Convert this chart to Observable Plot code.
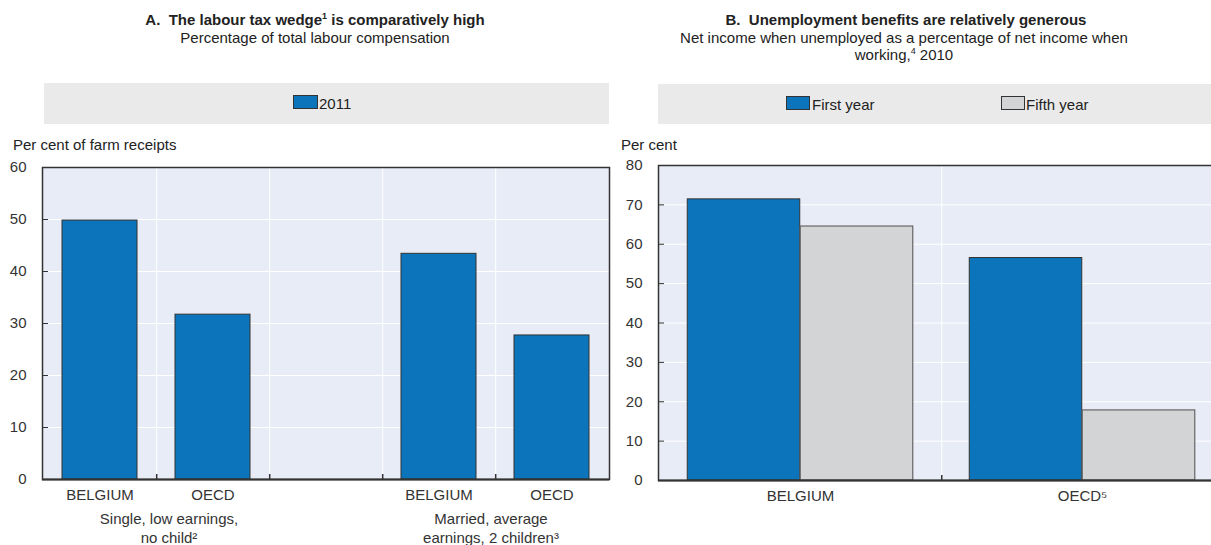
<!DOCTYPE html>
<html>
<head>
<meta charset="utf-8">
<script src="https://cdn.jsdelivr.net/npm/d3@7"></script>
<script src="https://cdn.jsdelivr.net/npm/@observablehq/plot@0.6"></script>
<style>
  html, body { margin: 0; padding: 0; background: #fff; }
  #root { position: relative; width: 1211px; height: 545px; overflow: hidden;
          font-family: "Liberation Sans", Arial, sans-serif; color: #222; }
  .abs { position: absolute; }
  .title { font-size: 15px; font-weight: bold; line-height: 18px; text-align: center; white-space: nowrap; }
  .sub { font-size: 15px; line-height: 17px; text-align: center; white-space: nowrap; }
  .sup { font-size: 9px; position: relative; top: -6px; }
  .band { background: #EAEAEB; }
  .sw { position: absolute; box-sizing: border-box; border: 1px solid #333; }
  .lt { position: absolute; font-size: 15px; line-height: 15px; color: #222; white-space: nowrap; }
  .ylab { position: absolute; font-size: 15px; line-height: 17px; color: #222; white-space: nowrap; }
  svg { position: absolute; }
</style>
</head>
<body>
<div id="root">
  <div class="abs title" style="left:115px;top:11px;width:400px;">A.&nbsp; The labour tax wedge<span class="sup">1</span> is comparatively high</div>
  <div class="abs sub" style="left:115px;top:29px;width:400px;">Percentage of total labour compensation</div>

  <div class="abs title" style="left:706px;top:11px;width:400px;">B.&nbsp; Unemployment benefits are relatively generous</div>
  <div class="abs sub" style="left:654px;top:29px;width:500px;">Net income when unemployed as a percentage of net income when<br>working,<span class="sup">4</span> 2010</div>

  <div class="abs band" style="left:44px;top:83px;width:565px;height:41px;"></div>
  <div class="sw" id="swA" style="left:293px;top:95px;width:25px;height:14px;"></div>
  <div class="lt" id="ltA" style="left:319px;top:96px;"></div>

  <div class="abs band" style="left:658px;top:84px;width:553px;height:40px;"></div>
  <div class="sw" id="swB1" style="left:786px;top:96px;width:24px;height:14px;"></div>
  <div class="lt" id="ltB1" style="left:812px;top:97px;"></div>
  <div class="sw" id="swB2" style="left:1001px;top:96px;width:24px;height:14px;"></div>
  <div class="lt" id="ltB2" style="left:1026px;top:97px;"></div>

  <div class="ylab" style="left:13px;top:136px;">Per cent of farm receipts</div>
  <div class="ylab" style="left:621px;top:136px;">Per cent</div>
</div>
<script>
// ---------- Panel A data ----------
const householdsA = ["Single, low earnings,\nno child²", "Married, average\nearnings, 2 children³"];
const countriesA = ["BELGIUM", "OECD"];
const seriesA = "2011";
const wedgeSingle = [49.8, 31.7];   // BELGIUM, OECD
const wedgeMarried = [43.4, 27.7];  // BELGIUM, OECD
const yTicksA = [0, 10, 20, 30, 40, 50, 60];

// ---------- Panel B data ----------
const countriesB = ["BELGIUM", "OECD"];
const countryLabelsB = ["BELGIUM", "OECD⁵"];
const seriesB = ["First year", "Fifth year"];
const firstYear = [71.4, 56.5];
const fifthYear = [64.5, 17.8];
const yTicksB = [0, 10, 20, 30, 40, 50, 60, 70, 80];

// ---------- styles ----------
const BLUE = "#0B74BA", GREY = "#D3D4D6", BG = "#E8ECF6", DARK = "#333";
const FONT = "'Liberation Sans', Arial, sans-serif";

document.getElementById("swA").style.background = BLUE;
document.getElementById("ltA").textContent = seriesA;
document.getElementById("swB1").style.background = BLUE;
document.getElementById("ltB1").textContent = seriesB[0];
document.getElementById("swB2").style.background = GREY;
document.getElementById("ltB2").textContent = seriesB[1];

// ---------- Panel A ----------
const slotsA = [
  "0|" + countriesA[0], "0|" + countriesA[1], "gap",
  "1|" + countriesA[0], "1|" + countriesA[1]
];
const rowsA = [
  {slot: slotsA[0], value: wedgeSingle[0]},
  {slot: slotsA[1], value: wedgeSingle[1]},
  {slot: slotsA[3], value: wedgeMarried[0]},
  {slot: slotsA[4], value: wedgeMarried[1]}
];
const dimA = {width: 620, height: 415, marginTop: 37, marginBottom: 66, marginLeft: 42, marginRight: 11};
const innerWA = dimA.width - dimA.marginLeft - dimA.marginRight;
const stepA = innerWA / slotsA.length;

const plotA = Plot.plot({
  ...dimA,
  style: {fontSize: "15px", fontFamily: FONT, color: DARK, background: "transparent", overflow: "hidden"},
  x: {domain: slotsA, paddingInner: 0.333, paddingOuter: 0.1667, tickSize: 0, tickPadding: 10,
      tickFormat: d => d === "gap" ? "" : d.split("|")[1], label: null},
  y: {domain: [0, 60], ticks: yTicksA, tickSize: 0, tickPadding: 16, label: null},
  marks: [
    Plot.frame({fill: BG}),
    Plot.ruleY(yTicksA, {stroke: "#fff", strokeWidth: 1}),
    Plot.ruleX(slotsA.slice(0, 4), {dx: stepA / 2, stroke: "#fff", strokeWidth: 1}),
    Plot.barY(rowsA, {x: "slot", y: "value", fill: BLUE, stroke: DARK, strokeWidth: 1}),
    Plot.ruleY(yTicksA, {stroke: DARK, strokeWidth: 1, insetRight: innerWA - 6}),
    Plot.ruleX(slotsA.slice(0, 4), {dx: stepA / 2, y1: 0, y2: 0, insetBottom: 5, stroke: DARK, strokeWidth: 1.5}),
    Plot.frame({stroke: DARK, strokeWidth: 1.5}),
    Plot.ruleY([0], {stroke: DARK, strokeWidth: 2}),
    Plot.text([householdsA[0]], {x: () => slotsA[0], y: () => 0, text: d => d, dx: 69, dy: 31,
      lineAnchor: "top", lineHeight: 1.27, fontSize: 15, fill: DARK}),
    Plot.text([householdsA[1]], {x: () => slotsA[3], y: () => 0, text: d => d, dx: 52, dy: 31,
      lineAnchor: "top", lineHeight: 1.27, fontSize: 15, fill: DARK})
  ]
});
plotA.style.left = "0px";
plotA.style.top = "130px";
document.getElementById("root").appendChild(plotA);

// ---------- Panel B ----------
const rowsB = countriesB.flatMap((c, i) => [
  {country: c, series: seriesB[0], value: firstYear[i]},
  {country: c, series: seriesB[1], value: fifthYear[i]}
]);
const dimB = {width: 601, height: 415, marginTop: 35, marginBottom: 65, marginLeft: 48, marginRight: -12};
const innerWB = dimB.width - dimB.marginLeft - dimB.marginRight;
const stepB = innerWB / countriesB.length;

const plotB = Plot.plot({
  ...dimB,
  style: {fontSize: "15px", fontFamily: FONT, color: DARK, background: "transparent", overflow: "hidden"},
  x: {domain: countriesB, padding: 0, tickSize: 0, tickPadding: 10,
      tickFormat: d => countryLabelsB[countriesB.indexOf(d)], label: null},
  y: {domain: [0, 80], ticks: yTicksB, tickSize: 0, tickPadding: 16, label: null},
  marks: [
    Plot.frame({fill: BG}),
    Plot.ruleY(yTicksB, {stroke: "#fff", strokeWidth: 1}),
    Plot.ruleX(countriesB.slice(0, 1), {dx: stepB / 2, stroke: "#fff", strokeWidth: 1}),
    Plot.barY(rowsB.filter(d => d.series === seriesB[0]), {x: "country", y: "value", fill: BLUE, stroke: DARK,
      strokeWidth: 1, insetLeft: stepB * 0.1, insetRight: stepB * 0.5}),
    Plot.barY(rowsB.filter(d => d.series === seriesB[1]), {x: "country", y: "value", fill: GREY, stroke: "#666",
      strokeWidth: 1.2, insetLeft: stepB * 0.5, insetRight: stepB * 0.1}),
    Plot.ruleY(yTicksB, {stroke: DARK, strokeWidth: 1, insetRight: innerWB - 6}),
    Plot.ruleX(countriesB.slice(0, 1), {dx: stepB / 2, y1: 0, y2: 0, insetBottom: 5, stroke: DARK, strokeWidth: 1.5}),
    Plot.frame({stroke: DARK, strokeWidth: 1.5}),
    Plot.ruleY([0], {stroke: DARK, strokeWidth: 2})
  ]
});
plotB.style.left = "610px";
plotB.style.top = "130px";
document.getElementById("root").appendChild(plotB);
</script>
</body>
</html>
